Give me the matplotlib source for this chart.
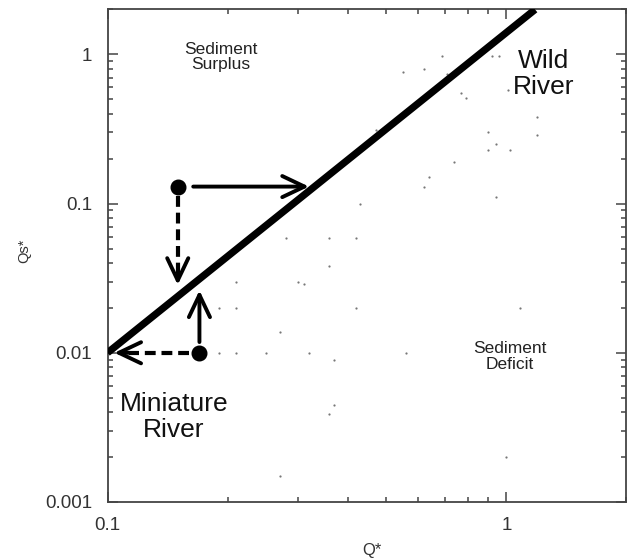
import matplotlib
matplotlib.use("Agg")
import matplotlib.pyplot as plt
from matplotlib.ticker import LogLocator, NullFormatter, FixedLocator, FixedFormatter

plt.rcParams["font.family"] = ["Liberation Sans", "DejaVu Sans"]

# Scatter of observed rivers (Q*, Qs*)
q_obs = [0.69, 0.92, 0.96, 0.55, 0.62, 0.71, 0.77, 0.79, 1.01, 1.19, 1.19,
         0.90, 0.94, 0.90, 1.02, 0.74, 0.64, 0.62, 0.47, 0.43, 0.94, 0.28,
         0.36, 0.42, 0.36, 0.21, 0.30, 0.31, 0.19, 0.21, 0.42, 1.08, 0.27,
         0.19, 0.21, 0.25, 0.32, 0.37, 0.56, 0.37, 0.36, 1.00, 0.27]
qs_obs = [0.98, 0.98, 0.97, 0.76, 0.80, 0.74, 0.55, 0.51, 0.58, 0.38, 0.29,
          0.30, 0.25, 0.23, 0.23, 0.19, 0.15, 0.13, 0.31, 0.10, 0.11, 0.059,
          0.059, 0.059, 0.038, 0.030, 0.030, 0.029, 0.020, 0.020, 0.020, 0.020, 0.0137,
          0.010, 0.010, 0.010, 0.010, 0.0089, 0.010, 0.0045, 0.0039, 0.0020, 0.0015]

# Equilibrium line between sediment surplus and deficit
line_q = [0.1, 1.18]
line_qs = [0.01, 2.0]

# Example rivers and their adjustment paths
wild_pt = (0.15, 0.13)
mini_pt = (0.17, 0.010)
wild_right = ((0.164, 0.13), (0.32, 0.13))
wild_down = ((0.15, 0.112), (0.15, 0.0285))
mini_up = ((0.17, 0.0118), (0.17, 0.0262))
mini_left = ((0.160, 0.010), (0.104, 0.010))

x_ticks = [0.1, 1]
x_labels = ["0.1", "1"]
y_ticks = [0.001, 0.01, 0.1, 1]
y_labels = ["0.001", "0.01", "0.1", "1"]

fig = plt.figure(figsize=(6.28, 5.58), dpi=100)
ax = fig.add_axes([0.1712, 0.1004, 0.8264, 0.8826])
ax.set_xscale("log")
ax.set_yscale("log")
ax.set_xlim(0.1, 2.0)
ax.set_ylim(0.001, 2.0)

spine_col = "#444444"
for s in ax.spines.values():
    s.set_color(spine_col)
    s.set_linewidth(1.3)

ax.xaxis.set_major_locator(FixedLocator(x_ticks))
ax.xaxis.set_major_formatter(FixedFormatter(x_labels))
ax.yaxis.set_major_locator(FixedLocator(y_ticks))
ax.yaxis.set_major_formatter(FixedFormatter(y_labels))
ax.xaxis.set_minor_locator(LogLocator(base=10, subs=range(2, 10)))
ax.yaxis.set_minor_locator(LogLocator(base=10, subs=range(2, 10)))
ax.xaxis.set_minor_formatter(NullFormatter())
ax.yaxis.set_minor_formatter(NullFormatter())
ax.tick_params(which="both", direction="in", top=True, right=True,
               color=spine_col, width=1.1, labelcolor="#333333", labelsize=13.5)
ax.tick_params(which="major", length=7, pad=11)
ax.tick_params(which="minor", length=3.8)

ax.set_xlabel("Q*", fontsize=12, color="#333333", labelpad=6)
ax.xaxis.label.set_x(0.51)
ax.set_ylabel("Qs*", fontsize=10.5, color="#333333", labelpad=10)
ax.yaxis.label.set_y(0.51)

ax.plot(q_obs, qs_obs, linestyle="none", marker="o", markersize=1.6,
        color="#777777", markeredgewidth=0)

ax.plot(line_q, line_qs, color="black", linewidth=5.2, solid_capstyle="butt",
        clip_on=True, zorder=3)

ax.plot(*zip(wild_pt, mini_pt), linestyle="none", marker="o", markersize=10.5,
        color="black", zorder=5)

head = "->,head_length=0.8,head_width=0.38"


def solid_arrow(seg):
    (x0, y0), (x1, y1) = seg
    ax.annotate("", xy=(x1, y1), xytext=(x0, y0),
                arrowprops=dict(arrowstyle=head, color="black", lw=2.8,
                                mutation_scale=20, shrinkA=0, shrinkB=0),
                zorder=4)


def dashed_arrow(seg, frac):
    (x0, y0), (x1, y1) = seg
    # dashed shaft, solid arrow head near the tip
    xm = x0 * (x1 / x0) ** frac
    ym = y0 * (y1 / y0) ** frac
    ax.plot([x0, xm], [y0, ym], color="black", lw=3.0,
            dashes=(2.6, 1.4), zorder=4)
    ax.annotate("", xy=(x1, y1), xytext=(xm, ym),
                arrowprops=dict(arrowstyle=head, color="black", lw=2.8,
                                mutation_scale=20, shrinkA=0, shrinkB=0),
                zorder=4)


solid_arrow(wild_right)
solid_arrow(mini_up)
dashed_arrow(wild_down, 0.88)
dashed_arrow(mini_left, 0.80)

ax.text(0.192, 0.96, "Sediment\nSurplus", ha="center", va="center",
        fontsize=12.5, color="#222222", linespacing=1.05)
ax.text(1.02, 0.0094, "Sediment\nDeficit", ha="center", va="center",
        fontsize=12.5, color="#222222", linespacing=1.05)
ax.text(1.24, 0.74, "Wild\nRiver", ha="center", va="center",
        fontsize=19, color="#111111", linespacing=1.12)
ax.text(0.1467, 0.00373, "Miniature\nRiver", ha="center", va="center",
        fontsize=19, color="#111111", linespacing=1.1)

fig.savefig("out.png", dpi=100)
